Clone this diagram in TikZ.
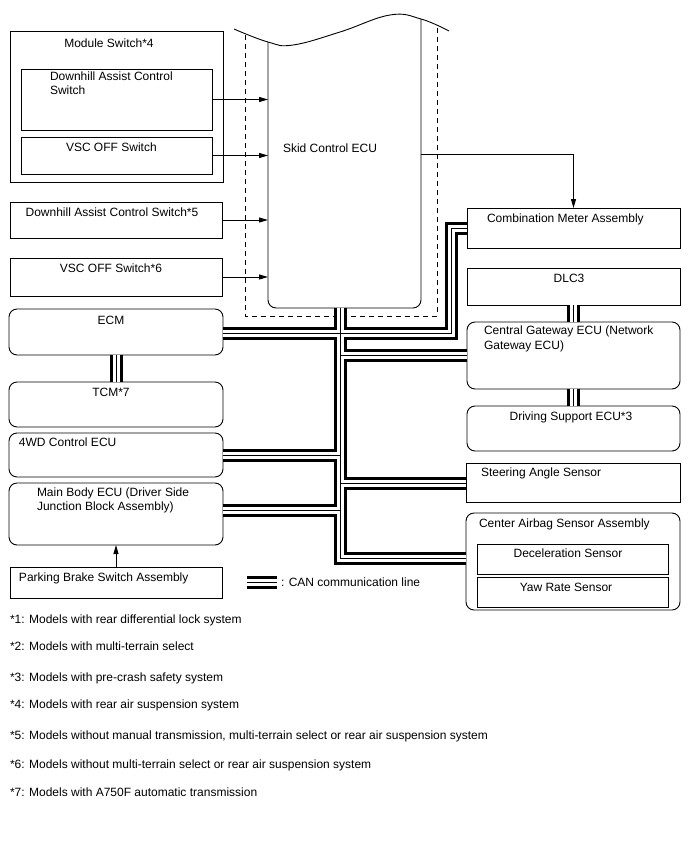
\documentclass[tikz,border=0pt]{standalone}
\usepackage{fontspec}
\setmainfont{Liberation Sans}
\usetikzlibrary{arrows.meta}
\tikzset{
 sq/.style={draw, line width=0.9pt, inner sep=0pt, outer sep=0pt},
 rd/.style={sq, rounded corners=8pt},
 txt/.style={inner sep=0pt, outer sep=0pt, font=\fontsize{12}{14.5}\selectfont, align=left},
 arr/.style={line width=0.9pt, -{Triangle[length=9pt,width=5pt]}},
 busA/.style={line width=13pt},
 busB/.style={line width=7pt, white},
 busC/.style={line width=1pt},
 dsh/.style={line width=0.9pt, dash pattern=on 5pt off 4pt},
}
\newcommand\mybox[6]{\node[#6, minimum width={#4pt-#2pt}, minimum height={#5pt-#3pt}] (#1) at ({(#2+#4)/2},{(#3+#5)/2}) {};}
\newcommand\buspaths[1]{%
 \draw[#1] (trtop) -- (trbot) -- (trbot -| cab.west);
 \draw[#1] (ecm.east |- trecm) -- (trecm);
 \draw[#1] (trecm) -- (combv |- trecm) -- (combv |- comb.west) -- (comb.west);
 \draw[#1] (trgw) -- (trgw -| gw.west);
 \draw[#1] (fwd.east) -- (fwd.east -| trtop);
 \draw[#1] (trst) -- (trst -| steer.west);
 \draw[#1] (mb.east |- trmb) -- (trmb);
 \draw[#1] (ecm.south) -- (tcm.north);
 \draw[#1] (dlc.south) -- (gw.north);
 \draw[#1] (gw.south) -- (ds.north);
 \draw[#1] (lga) -- (lgb);
}
\begin{document}
\begin{tikzpicture}[x=1pt,y=-1pt]
\useasboundingbox (0,0) rectangle (688,852);
% left boxes
\mybox{mod}{10}{31}{223}{182}{sq}
\mybox{dac}{21}{69}{212}{130}{sq}
\mybox{vsc}{21}{137}{212}{174}{sq}
\mybox{dac5}{10}{202}{222}{238}{sq}
\mybox{vsc6}{10}{258}{222}{296}{sq}
\mybox{ecm}{9}{309}{223}{355}{rd}
\mybox{tcm}{9}{382}{223}{427}{rd}
\mybox{fwd}{9}{433}{223}{477}{rd}
\mybox{mb}{9}{483}{223}{545}{rd}
\mybox{pb}{10}{567}{222}{598}{sq}
% right boxes
\mybox{comb}{467}{208}{680}{248}{sq}
\mybox{dlc}{467}{268}{680}{305}{sq}
\mybox{gw}{467}{322}{680}{389}{rd}
\mybox{ds}{467}{406}{680}{451}{rd}
\mybox{steer}{466}{463}{680}{502}{sq}
\mybox{cab}{466}{513}{680}{610}{rd}
\mybox{dec}{477}{544}{668}{574}{sq}
\mybox{yaw}{477}{577}{668}{607}{sq}
% skid control ECU
\node[inner sep=0pt, outer sep=0pt, minimum width=153pt, minimum height=289pt] (ecu) at (344.5,163.5) {};
\draw[dsh] (245,35) -- (245,316) -- (437,316) -- (437,27);
\draw[line width=0.9pt, rounded corners=8pt] (ecu.north west |- 0,42) -- (ecu.south west) -- (ecu.south east) -- (ecu.north east);
\draw[line width=0.9pt] plot[smooth, tension=0.7] coordinates {(234,29) (268,42) (293,45) (340,32) (390,15) (421,19) (449,31)};
% texts
\node[txt, anchor=base] (modt) at (109,47) {Module Switch*4};
\node[txt, anchor=base west] (dact) at (50,94.5) {Downhill Assist Control\\Switch};
\node[txt, anchor=base west] (vsct) at (66,151) {VSC OFF Switch};
\node[txt, anchor=base] (dac5t) at (112,216) {Downhill Assist Control Switch*5};
\node[txt, anchor=base] (vsc6t) at (111,272) {VSC OFF Switch*6};
\node[txt, anchor=base] (ecmt) at (111,324) {ECM};
\node[txt, anchor=base] (tcmt) at (111,396) {TCM*7};
\node[txt, anchor=base west] (fwdt) at (19,446) {4WD Control ECU};
\node[txt, anchor=base west] (mbt) at (37,510.5) {Main Body ECU (Driver Side\\Junction Block Assembly)};
\node[txt, anchor=base west] (pbt) at (19,581) {Parking Brake Switch Assembly};
\node[txt, anchor=base west] (ecut) at (283,152) {Skid Control ECU};
\node[txt, anchor=base west] (combt) at (487,222) {Combination Meter Assembly};
\node[txt, anchor=base] (dlct) at (569,282) {DLC3};
\node[txt, anchor=base west] (gwt) at (484,349) {Central Gateway ECU (Network\\Gateway ECU)};
\node[txt, anchor=base] (dst) at (571,420) {Driving Support ECU*3};
\node[txt, anchor=base west] (steert) at (481,476) {Steering Angle Sensor};
\node[txt, anchor=base west] (cabt) at (479,527) {Center Airbag Sensor Assembly};
\node[txt, anchor=base] (dect) at (568,557) {Deceleration Sensor};
\node[txt, anchor=base] (yawt) at (566,591) {Yaw Rate Sensor};
\node[txt, anchor=base west] (lgt) at (281,586) {: CAN communication line};
% footnotes
\node[txt, anchor=base west] (f1) at (10,623) {*1: Models with rear differential lock system};
\node[txt, anchor=base west] (f2) at (10,650) {*2: Models with multi-terrain select};
\node[txt, anchor=base west] (f3) at (10,681) {*3: Models with pre-crash safety system};
\node[txt, anchor=base west] (f4) at (10,708) {*4: Models with rear air suspension system};
\node[txt, anchor=base west] (f5) at (10,739) {*5: Models without manual transmission, multi-terrain select or rear air suspension system};
\node[txt, anchor=base west] (f6) at (10,768) {*6: Models without multi-terrain select or rear air suspension system};
\node[txt, anchor=base west] (f7) at (10,796) {*7: Models with A750F automatic transmission};
% arrows
\draw[arr] (dac.east) -- (dac.east -| ecu.west);
\draw[arr] (vsc.east) -- (vsc.east -| ecu.west);
\draw[arr] (dac5.east) -- (dac5.east -| ecu.west);
\draw[arr] (vsc6.east) -- (vsc6.east -| ecu.west);
\draw[arr] (ecu.east |- 0,154) -- (comb.north |- 0,154) -- (comb.north);
\draw[arr] (pb.north) -- (mb.south);
% bus coordinates
\coordinate (trtop) at (340,308);
\coordinate (trbot) at (340,558);
\coordinate (trecm) at (340,333);
\coordinate (trgw) at (340,355);
\coordinate (trst) at (340,483);
\coordinate (trmb) at (340,510);
\coordinate (combv) at (451,228);
\coordinate (lga) at (247,582);
\coordinate (lgb) at (277,582);
\buspaths{busA}
\buspaths{busB}
\buspaths{busC}
\end{tikzpicture}
\end{document}
